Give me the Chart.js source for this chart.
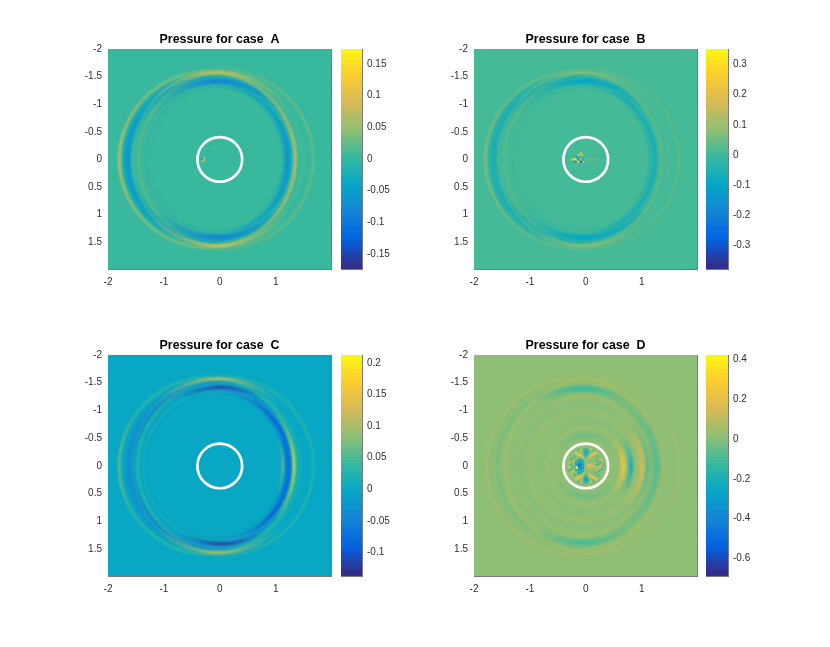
<!DOCTYPE html>
<html><head><meta charset="utf-8">
<script src="https://cdn.jsdelivr.net/npm/chart.js@4"></script>
<style>html,body{margin:0;padding:0;background:#fff;width:830px;height:647px;overflow:hidden}canvas{position:absolute}</style>
</head><body>
<script>
// ---------- data ----------
const caseNames = ['A','B','C','D'];
const xTicks = [-2,-1,0,1];
const yTicks = [-2,-1.5,-1,-0.5,0,0.5,1,1.5];
const colorLimitsA = [-0.1737,0.1737];
const colorLimitsB = [-0.377,0.351];
const colorLimitsC = [-0.137,0.2124];
const colorLimitsD = [-0.688,0.422];
const colorTicksA = [-0.15,-0.1,-0.05,0,0.05,0.1,0.15];
const colorTicksB = [-0.3,-0.2,-0.1,0,0.1,0.2,0.3];
const colorTicksC = [-0.1,-0.05,0,0.05,0.1,0.15,0.2];
const colorTicksD = [-0.6,-0.4,-0.2,0,0.2,0.4];
const fieldValues = [0,0,-0.004,0];
const obstacleRadius = 0.4;
const parulaStops = ['#352a87','#0363e1','#1485d4','#06a7c6','#38b99e','#92bf73','#d9ba56','#fcce2e','#f9fb0e'];
// wave fronts: centre x, centre y, radius, thickness, pressure, from angle, to angle (0 = right, 90 = down)
const frontsA = [
 [-0.04,0,1.31,0.16,-0.012,0,360],
 [-0.22,0,1.44,0.18,-0.03,0,360],[-0.22,0,1.44,0.09,-0.05,0,360],
 [-0.22,0,1.575,0.04,0.05,0,360],[0.11,0,1.565,0.03,0.03,0,360],
 [0.05,0,1.62,0.025,0.025,0,360],[0.03,0,1.46,0.02,0.022,0,360],
 [-0.03,0,1.34,0.025,0.022,0,360],[-0.05,0,1.235,0.018,0.018,0,360],
 [-0.04,0,1.555,0.05,0.1,215,325],[-0.04,0,1.545,0.05,0.1,35,145],
 [-0.04,0,1.40,0.11,-0.08,220,320],[-0.04,0,1.395,0.11,-0.08,40,140],
 [-0.22,0,1.58,0.035,0.08,130,230],[-0.22,0,1.57,0.04,0.085,300,60],
 [-0.22,0,1.43,0.08,-0.07,320,40],[-0.22,0,1.43,0.08,-0.065,140,220]
];
const frontsB = [
 [-0.04,0,1.31,0.16,-0.015,0,360],
 [-0.22,0,1.44,0.18,-0.05,0,360],[-0.22,0,1.44,0.08,-0.075,0,360],
 [-0.22,0,1.575,0.04,0.045,0,360],[0.11,0,1.565,0.03,0.035,0,360],
 [0.05,0,1.62,0.025,0.03,0,360],[0.03,0,1.46,0.02,0.025,0,360],
 [-0.03,0,1.34,0.025,0.025,0,360],[-0.05,0,1.235,0.018,0.02,0,360],
 [-0.04,0,1.555,0.045,0.08,215,325],[-0.04,0,1.545,0.045,0.08,35,145],
 [-0.04,0,1.40,0.10,-0.105,220,320],[-0.04,0,1.395,0.10,-0.105,40,140],
 [-0.22,0,1.58,0.035,0.07,130,230]
];
const frontsC = [
 [-0.04,0,1.31,0.14,-0.012,0,360],
 [-0.2,0,1.43,0.16,-0.03,0,360],[-0.18,0,1.41,0.08,-0.05,0,360],
 [-0.22,0,1.58,0.045,0.04,0,360],[0.11,0,1.57,0.035,0.03,0,360],
 [0.05,0,1.62,0.025,0.025,0,360],[-0.02,0,1.46,0.025,0.03,0,360],
 [-0.03,0,1.34,0.025,0.03,0,360],[-0.01,0,1.24,0.018,0.02,0,360],
 [-0.03,0,1.56,0.045,0.13,225,315],[-0.03,0,1.55,0.045,0.13,45,135],
 [0.05,0,1.41,0.045,-0.13,240,300],[0.05,0,1.395,0.045,-0.13,60,120],
 [-0.22,0,1.58,0.035,0.065,140,220],
 [-0.18,0,1.41,0.07,-0.09,300,60],[-0.1,0,1.35,0.05,-0.095,295,355],[-0.1,0,1.35,0.05,-0.095,5,65],
 [-0.2,0,1.53,0.04,0.2,320,40],[-0.12,0,1.25,0.02,0.15,335,25]
];
const frontsD = [
 [-0.2,0,1.58,0.05,0.05,0,360],[-0.2,0,1.42,0.15,-0.035,0,360],[-0.15,0,1.5,0.05,0.02,0,360],
 [0.12,0,1.56,0.05,0.04,0,360],[-0.1,0,1.24,0.05,0.025,0,360],[-0.05,0,1.1,0.07,-0.012,0,360],
 [0,0,1.33,0.06,-0.015,0,360],[-0.05,0,0.97,0.07,0.018,0,360],[0,0,0.82,0.07,-0.01,0,360],
 [0,0,0.68,0.07,0.018,0,360],[0,0,0.55,0.1,-0.05,200,340],[0,0,0.55,0.1,-0.05,20,160],
 [-0.05,0,1.38,0.09,-0.14,235,305],[-0.05,0,1.37,0.09,-0.12,55,125],
 [-0.1,0,1.37,0.11,-0.08,300,60],
 [0,0,0.67,0.09,0.22,315,45],[0,0,0.81,0.07,-0.27,325,35],
 [0,0,1.01,0.1,0.13,305,55],[0,0,1.11,0.06,-0.1,315,45]
];
// isolated grid cells near the source: x, y, pressure
const cellsA = [[-0.31,0,-0.1],[-0.28,0,0.08],[-0.31,0.03,0.05],[-0.28,-0.03,0.04],[-0.1,-0.22,0.02],[-0.03,0.12,-0.015]];
const cellsB = [[-0.2,0,0.33],[-0.24,0,0.18],[-0.16,0,0.2],[-0.09,0.04,-0.3],[-0.13,0.04,0.25],[-0.09,-0.08,0.12],[-0.13,-0.08,0.14],[-0.05,-0.08,0.08],[-0.09,-0.12,0.1],[-0.13,0,-0.15],[-0.09,0,0.12],[-0.05,0.04,0.1],[-0.2,0.04,-0.1],[-0.16,-0.04,-0.08],[0.03,0,0.06],[0.1,0,0.05],[0.17,0,0.05],[-0.05,0,-0.06]];
const cellsD = [
 [-0.13,-0.03,-0.42],[-0.09,-0.03,-0.46],[-0.13,0.01,-0.52],[-0.09,0.01,-0.42],[-0.13,0.05,-0.33],[-0.09,0.05,-0.35],[-0.05,-0.01,-0.3],[-0.17,-0.03,-0.26],[-0.17,0.02,-0.26],[-0.13,-0.07,-0.28],[-0.09,-0.07,-0.28],[-0.05,0.04,-0.27],[-0.09,0.09,-0.25],[-0.05,-0.05,-0.18],[-0.14,0.09,-0.18],[-0.13,-0.11,-0.24],[-0.09,-0.11,-0.22],[-0.13,0.13,-0.2],[-0.09,0.13,-0.2],[-0.05,0.09,-0.2],[-0.05,-0.09,-0.2],[-0.17,0.07,-0.2],[-0.17,-0.07,-0.2],
 [-0.16,0.03,0.4],
 [-0.14,-0.21,0.24],[-0.1,-0.19,0.21],[-0.17,-0.24,0.2],[-0.06,-0.16,0.13],[0.14,-0.21,0.24],[0.1,-0.19,0.2],[0.18,-0.24,0.2],[0.07,-0.15,0.13],
 [-0.14,0.21,0.24],[-0.1,0.19,0.21],[-0.17,0.24,0.2],[-0.06,0.16,0.13],[0.14,0.21,0.26],[0.1,0.19,0.21],[0.18,0.24,0.2],[0.07,0.15,0.13],
 [-0.02,-0.26,-0.22],[0.02,-0.26,-0.25],[-0.02,-0.22,-0.2],[0.02,-0.22,-0.25],[-0.02,-0.3,-0.14],[0.02,-0.3,-0.14],[0,-0.18,-0.16],[0.05,-0.26,-0.16],
 [-0.02,0.26,-0.22],[0.02,0.26,-0.25],[-0.02,0.22,-0.2],[0.02,0.22,-0.25],[-0.02,0.3,-0.14],[0.02,0.3,-0.14],[0,0.18,-0.16],[0.05,0.26,-0.16],
 [0.04,-0.02,0.14],[0.08,-0.02,0.18],[0.12,0,0.16],[0.06,0.03,0.16],[0.16,0.02,0.12],[0.02,0.02,0.08],
 [0.25,-0.06,-0.13],[0.29,-0.02,0.1],[0.25,0.02,0.15],[0.21,-0.02,-0.1],[0.29,0.06,-0.12],[0.21,0.07,0.11],[0.32,0,-0.08],[0.24,0.1,-0.1],[0.25,-0.12,0.12],[0.2,-0.1,-0.1],[0.29,-0.1,0.08],[0.18,0.12,-0.09],
 [-0.3,-0.06,0.12],[-0.26,-0.02,-0.12],[-0.3,0.02,0.14],[-0.26,0.06,-0.1],[-0.22,-0.08,0.1],[-0.22,0.1,0.12],[-0.3,0.08,-0.09],[-0.26,-0.12,-0.1],[-0.26,0.13,0.1],[-0.22,0.02,-0.12],[-0.33,0,0.08],
 [-0.08,-0.28,0.08],[0.09,-0.3,0.08],[-0.08,0.28,0.08],[0.09,0.29,0.08],[-0.2,-0.16,-0.09],[0.22,-0.17,-0.09],[-0.2,0.16,-0.09],[0.22,0.17,-0.09],[0.14,-0.28,-0.07],[-0.14,-0.29,-0.07],[0.14,0.28,-0.07],[-0.14,0.29,-0.07]
];
// ---------- helpers ----------
const hex = h => [1,3,5].map(i => parseInt(h.substr(i,2),16));
function parula(t){
  t = Math.min(1,Math.max(0,t))*(parulaStops.length-1);
  const i = Math.min(parulaStops.length-2,Math.floor(t)), f = t-i;
  const a = hex(parulaStops[i]), b = hex(parulaStops[i+1]);
  return a.map((v,k)=>Math.round(v+(b[k]-v)*f));
}
const colorOf = (v,lim) => parula((v-lim[0])/(lim[1]-lim[0]));
const css = (c,a=1) => `rgba(${c[0]},${c[1]},${c[2]},${a})`;
const unitPx = chart => { const s = chart.scales.x; return s && s.width>0 ? s.getPixelForValue(1)-s.getPixelForValue(0) : 0; };
// A wave front is one scatter point whose marker is its (possibly partial) ring.
function frontMarker(ctx, lim){
  const unit = unitPx(ctx.chart), d = ctx.raw;
  if(!unit || !d) return 'circle';
  const R = d.r*unit, w = Math.max(1,d.t*unit), size = Math.ceil(2*(R+w+6));
  const c = document.createElement('canvas'); c.width = size; c.height = size;
  const g = c.getContext('2d'), col = colorOf(d.v,lim), mid = size/2;
  g.filter = 'blur(0.8px)'; g.lineWidth = w;
  let span = ((d.to-d.from)%360+360)%360;
  if(d.to-d.from===360) span = 360;
  if(span===360){ g.strokeStyle = css(col,0.8); }
  else {
    const grad = g.createConicGradient(d.from*Math.PI/180,mid,mid);
    grad.addColorStop(0,css(col,0));
    grad.addColorStop(span/720,css(col,0.95));
    grad.addColorStop(span/360,css(col,0));
    grad.addColorStop(1,css(col,0));
    g.strokeStyle = grad;
  }
  g.beginPath(); g.arc(mid,mid,R,0,2*Math.PI); g.stroke();
  return c;
}
const fieldBackground = {
  id:'fieldBackground',
  beforeDatasetsDraw(chart,args,opts){
    const a = chart.chartArea, g = chart.ctx;
    g.save(); g.fillStyle = opts.color; g.fillRect(a.left,a.top,a.width,a.height); g.restore();
  }
};
const fixedTicks = vals => scale => { scale.ticks = vals.map(value=>({value})); };
const labelFont = {family:'"Liberation Sans",Arial,sans-serif',size:10};
const inkColor = '#303030', frameColor = '#7a7a7a';
const fit = (w,h) => s => { if(w!==null) s.width = w; if(h!==null) s.height = h; s.paddingTop=0; s.paddingBottom=0; s.paddingLeft=0; s.paddingRight=0; };
function frameAxis(pos,axis,extra){
  return Object.assign({type:'linear',position:pos,display:true,axis,
    border:{display:true,color:frameColor,width:1},
    grid:{drawOnChartArea:false,drawTicks:true,tickLength:-3,tickColor:'#404040',tickWidth:1},
    ticks:{display:false},
    afterFit: axis==='x'?fit(null,0):fit(0,null)},extra||{});
}
function addCanvas(l,t,w,h){
  const c = document.createElement('canvas');
  c.style.left=l+'px'; c.style.top=t+'px'; c.style.width=w+'px'; c.style.height=h+'px';
  c.width=w; c.height=h; document.body.appendChild(c); return c;
}
// ---------- panels ----------
const boxes = [
  {l:108,t:49,w:223,h:220,bl:341,bw:22},
  {l:474,t:49,w:223,h:220,bl:706,bw:23},
  {l:108,t:355,w:223,h:221,bl:341,bw:22},
  {l:474,t:355,w:223,h:221,bl:706,bw:23}
];
const limits = [colorLimitsA,colorLimitsB,colorLimitsC,colorLimitsD];
const colorTicks = [colorTicksA,colorTicksB,colorTicksC,colorTicksD];
const fronts = [frontsA,frontsB,frontsC,frontsD];
const cells = [cellsA,cellsB,[],cellsD];
caseNames.forEach((name,i)=>{
  const b = boxes[i], lim = limits[i];
  const frontPts = fronts[i].map(f=>({x:f[0],y:f[1],r:f[2],t:f[3],v:f[4],from:f[5],to:f[6]}));
  const cellPts = cells[i].map(c=>({x:c[0],y:c[1],v:c[2]}));
  const datasets = [
    {label:'fronts',data:frontPts,pointStyle:ctx=>frontMarker(ctx,lim),pointRadius:1,pointHoverRadius:1,pointBorderWidth:0,pointBackgroundColor:'transparent',order:3},
    {label:'cells',data:cellPts,pointStyle:'rect',pointRadius:1.7,pointBorderWidth:0,pointBackgroundColor:ctx=>{const r=ctx.raw;return r?css(colorOf(r.v,lim)):'transparent';},order:2},
    {label:'obstacle',data:[{x:0,y:0}],pointStyle:'circle',pointBackgroundColor:'transparent',pointBorderColor:'#ffffff',pointBorderWidth:2.7,
     pointRadius:ctx=>obstacleRadius*unitPx(ctx.chart)||1,order:1}
  ];
  new Chart(addCanvas(b.l-40,b.t-18,b.w+80,b.h+18+22),{
    type:'scatter',
    data:{datasets},
    plugins:[fieldBackground],
    options:{
      animation:false,responsive:false,devicePixelRatio:1,events:[],
      layout:{autoPadding:false,padding:0},
      plugins:{
        legend:{display:false},tooltip:{enabled:false},
        fieldBackground:{color:css(colorOf(fieldValues[i],lim))},
        title:{display:true,text:'Pressure for case  '+name,color:'#000',padding:{top:2,bottom:2},
          font:{family:labelFont.family,size:12.4,weight:'bold',lineHeight:14/12.4}}
      },
      scales:{
        x:frameAxis('bottom','x',{min:-2,max:1.99,afterBuildTicks:fixedTicks(xTicks),afterFit:fit(null,22),
          ticks:{display:true,font:labelFont,color:inkColor,padding:10,maxRotation:0,callback:v=>String(v)}}),
        x2:frameAxis('top','x',{min:-2,max:1.99,afterBuildTicks:fixedTicks(xTicks)}),
        y:frameAxis('left','y',{min:-2,max:1.985,reverse:true,afterBuildTicks:fixedTicks(yTicks),afterFit:fit(40,null),
          ticks:{display:true,font:labelFont,color:inkColor,padding:9,callback:v=>String(v)}}),
        y2:frameAxis('right','y',{min:-2,max:1.985,reverse:true,afterBuildTicks:fixedTicks(yTicks),afterFit:fit(40,null)})
      }
    }
  });
  // colour bar: one floating bar per colormap level
  const levels = 64, step = (lim[1]-lim[0])/levels;
  const barSets = Array.from({length:levels},(_,k)=>({
    data:[[lim[0]+k*step,Math.min(lim[1],lim[0]+(k+1.6)*step)]],
    backgroundColor:css(parula((k+0.5)/levels)),borderWidth:0,grouped:false,barPercentage:1,categoryPercentage:1
  }));
  new Chart(addCanvas(b.bl-1,b.t-2,b.bw+42,b.h+4),{
    type:'bar',
    data:{labels:[''],datasets:barSets},
    options:{
      animation:false,responsive:false,devicePixelRatio:1,events:[],
      layout:{autoPadding:false,padding:{left:1,right:0,top:2,bottom:2}},
      plugins:{legend:{display:false},tooltip:{enabled:false},title:{display:false}},
      scales:{
        x:{type:'category',position:'bottom',display:true,border:{display:true,color:frameColor,width:1},
           grid:{display:false,drawTicks:false},ticks:{display:false},afterFit:fit(null,0)},
        x2:{type:'linear',axis:'x',position:'top',display:true,min:0,max:1,border:{display:true,color:frameColor,width:1},
           grid:{drawOnChartArea:false,drawTicks:false},ticks:{display:false},afterBuildTicks:fixedTicks([]),afterFit:fit(null,0)},
        yL:{type:'linear',axis:'y',position:'left',display:true,min:lim[0],max:lim[1],border:{display:true,color:frameColor,width:1},
           grid:{drawOnChartArea:false,drawTicks:false},ticks:{display:false},afterBuildTicks:fixedTicks([]),afterFit:fit(0,null)},
        y:{type:'linear',position:'right',min:lim[0],max:lim[1],border:{display:true,color:frameColor,width:1},
           grid:{drawOnChartArea:false,drawTicks:true,tickLength:-3,tickColor:'#404040',tickWidth:1},
           afterBuildTicks:fixedTicks(colorTicks[i]),afterFit:fit(42,null),
           ticks:{font:labelFont,color:inkColor,padding:8,callback:v=>String(v)}}
      }
    }
  });
});
</script>
</body></html>
